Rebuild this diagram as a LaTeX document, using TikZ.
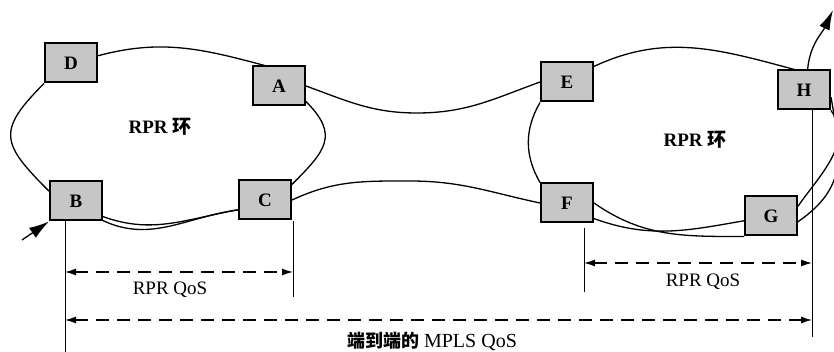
\documentclass[tikz,border=0pt]{standalone}
\usepackage{fontspec}
\setmainfont{Liberation Serif}
\newfontfamily\cjk{Noto Sans CJK SC}
\usetikzlibrary{arrows.meta, positioning}

\begin{document}
\begin{tikzpicture}[x=1pt, y=1pt,
    nodebox/.style={rectangle, draw, line width=2pt, fill=gray!45, minimum width=52pt, minimum height=39pt, inner sep=0pt, font=\fontsize{19}{22}\selectfont\bfseries},
    ringlabel/.style={font=\fontsize{19}{22}\selectfont\bfseries},
    qoslabel/.style={font=\fontsize{19}{22}\selectfont},
    link/.style={line width=1.3pt},
    dimline/.style={line width=0.8pt},
    dimarrow/.style={line width=1.3pt, dash pattern=on 13pt off 8pt, {Latex[length=11pt,width=7pt]}-{Latex[length=11pt,width=7pt]}}]
  \useasboundingbox (0,0) rectangle (834,352);
  % left ring
  \node[nodebox] (D) at (71,289) {D};
  \node[nodebox] (A) at (279,266) {A};
  \node[nodebox] (B) at (76,151) {B};
  \node[nodebox] (C) at (265,152) {C};
  \node[ringlabel] (ring1) at (160,225) {RPR {\cjk 环}};
  % right ring
  \node[nodebox] (E) at (567,270) {E};
  \node[nodebox, below=80pt of E] (F) {F};
  \node[nodebox] (G) at (771,136) {G};
  \node[nodebox] (H) at (804,262) {H};
  \node[ringlabel] (ring2) at (695,212) {RPR {\cjk 环}};

  \draw[link] (D.15) to[out=15,in=165] (A.125);
  \draw[link] (D.south west) to[out=225,in=135,looseness=1.6] (B.160);
  \draw[link] (A.-30) to[out=-45,in=45,looseness=1.45] (C.30);
  \draw[link] (B.-30) to[out=-20,in=190] (C.200);
  \draw[link] (B.-36) to[out=-25,in=188] (C.200);

  \draw[link] (E.30) to[out=25,in=165] (H.115);
  \draw[link] (E.south west) to[out=240,in=120] (F.north west);
  \draw[link] (H.south east) to[out=-55,in=55] (G.20);
  \draw[link] (G.-12) to[out=35,in=-80,looseness=1.2] (H.-15);
  \draw[link] (F.east) to[out=-35,in=180] (G.south west);
  \draw[link] (F.-30) to[out=-20,in=190] (G.190);

  % links between the rings
  \draw[link] (A.east) to[out=-20,in=180] (417,239) to[out=0,in=200] (E.west);
  \draw[link] (C.east) to[out=25,in=180] (410,171) to[out=0,in=168] (F.west);

  % traffic in and out
  \coordinate (src) at (22,112);
  \coordinate (sink) at (833,342);
  \draw[link, -{Latex[length=20pt,width=12pt]}] (src) -- (B.south west);
  \draw[link, -{Latex[length=20pt,width=11pt]}] (H.80) to[out=85,in=-115] (sink);

  % QoS spans
  \coordinate (bt) at (65,131);  \coordinate (bb) at (65,0);
  \coordinate (ct) at (293,131); \coordinate (cb) at (293,55);
  \coordinate (ft) at (584,124); \coordinate (fb) at (584,60);
  \coordinate (ht) at (812,242); \coordinate (hb) at (812,15);
  \draw[dimline] (bt) -- (bb);
  \draw[dimline] (ct) -- (cb);
  \draw[dimline] (ft) -- (fb);
  \draw[dimline] (ht) -- (hb);
  \coordinate (q1l) at (65,80);  \coordinate (q1r) at (293,80);
  \coordinate (q2l) at (584,89); \coordinate (q2r) at (812,89);
  \coordinate (q3l) at (65,32);  \coordinate (q3r) at (812,32);
  \draw[dimarrow] (q1l) -- (q1r);
  \draw[dimarrow] (q2l) -- (q2r);
  \draw[dimarrow] (q3l) -- (q3r);
  \node[qoslabel] (qos1) at (170,62) {RPR QoS};
  \node[qoslabel] (qos2) at (703,70) {RPR QoS};
  \node[font=\fontsize{20}{22}\selectfont] (qos3) at (432,11) {{\cjk\bfseries\fontsize{18}{22}\selectfont 端到端的} MPLS QoS};
\end{tikzpicture}
\end{document}
